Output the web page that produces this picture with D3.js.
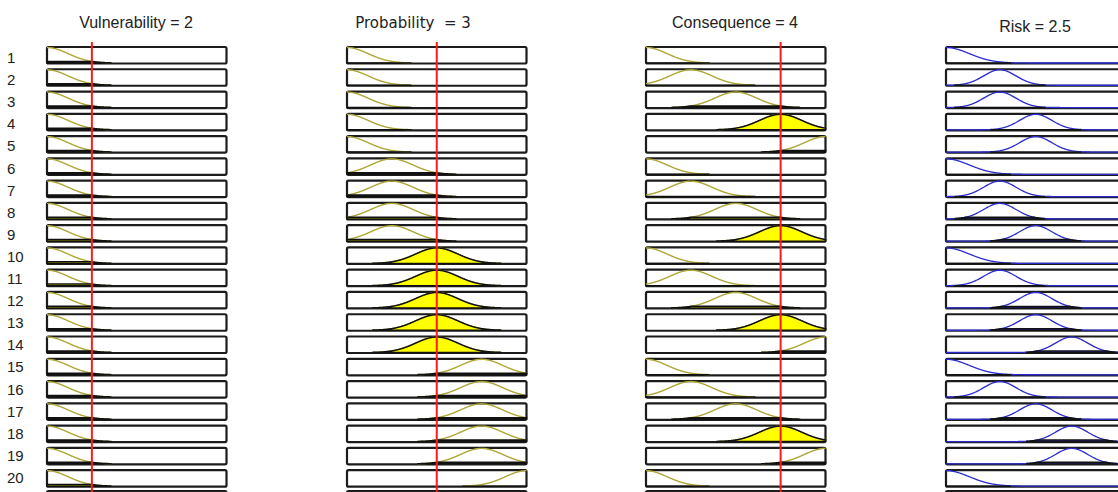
<!DOCTYPE html>
<html lang="en">
<head>
<meta charset="utf-8">
<title>Rule viewer</title>
<script src="https://d3js.org/d3.v7.min.js"></script>
<style>
  body { margin: 0; background: #fff; }
  text { font-family: "Liberation Sans", Arial, sans-serif; fill: #222; }
</style>
</head>
<body>
<script>
var w = 1118, h = 492;

// rule numbers
var ruleLabels = ["1","2","3","4","5","6","7","8","9","10","11","12","13","14","15","16","17","18","19","20"];

// inputs: 5 gaussian MFs on [1,5]
var inputNames = ["Vulnerability", "Probability", "Consequence"];
var inputValues = [2, 3, 4];
var inputRange = [1, 5];
var inputMfCenters = [1, 2, 3, 4, 5];
var inputMfSigma = 0.47;

// MF used by each rule (index into inputMfCenters)
var vulnerabilityMf = [0,0,0,0,0,0,0,0,0,0,0,0,0,0,0,0,0,0,0,0];
var probabilityMf   = [0,0,0,0,0,1,1,1,1,2,2,2,2,2,3,3,3,3,3,4];
var consequenceMf   = [0,1,2,3,4,0,1,2,3,0,1,2,3,4,0,1,2,3,4,0];

// output
var outputName = "Risk";
var outputValue = 2.5;
var outputRange = [0, 5];
var riskMfCenters = [0, 1.5, 2.5, 3.5, 4.5];
var riskMfSigmas  = [0.65, 0.45, 0.45, 0.45, 0.45];
var riskMf = [0,1,1,2,2,0,1,1,2,0,1,2,2,3,0,1,2,3,3,0];

var svg = d3.select("body").append("svg").attr("width", w).attr("height", h);

// layout
var colX = [47, 347, 646, 946];
var boxW = 179.5;
var rowTop = 47, rowStep = 22.27, boxH = 16.5;

function gauss(x, c, s) { return Math.exp(-(x - c) * (x - c) / (2 * s * s)); }

var inputMfs = [vulnerabilityMf, probabilityMf, consequenceMf];

// row labels
svg.selectAll("text.rule").data(ruleLabels).enter().append("text")
  .attr("class", "rule")
  .attr("x", 7)
  .attr("y", function(d, i) { return 63 + i * 22.1; })
  .style("font-size", "15px")
  .text(function(d) { return d; });

// titles
var titles = [
  {t: "Vulnerability = " + inputValues[0], x: 136, y: 28, f: "Liberation Sans"},
  {t: "Probability  = " + inputValues[1], x: 413, y: 28, f: "DejaVu Sans"},
  {t: "Consequence = " + inputValues[2], x: 735, y: 28, f: "Liberation Sans"},
  {t: outputName + " = " + outputValue, x: 1035, y: 32, f: "Liberation Sans"}
];
svg.selectAll("text.title").data(titles).enter().append("text")
  .attr("class", "title")
  .attr("x", function(d) { return d.x; })
  .attr("y", function(d) { return d.y; })
  .attr("text-anchor", "middle")
  .style("font-family", function(d) { return d.f; })
  .style("font-size", function(d) { return d.f == "DejaVu Sans" ? "15px" : "16px"; })
  .style("white-space", "pre")
  .text(function(d) { return d.t; });

// firing strength of each rule (AND = min)
var firing = ruleLabels.map(function(r, i) {
  var degs = inputMfs.map(function(mf, k) {
    return gauss(inputValues[k], inputMfCenters[mf[i]], inputMfSigma);
  });
  return d3.min(degs);
});

function drawBox(g, x0, y0) {
  g.append("rect")
    .attr("x", x0).attr("y", y0)
    .attr("width", boxW).attr("height", boxH)
    .attr("rx", 1.5)
    .attr("fill", "#fff")
    .attr("stroke", "#1c1c1c")
    .attr("stroke-width", 2.2);
}

// input columns
inputNames.forEach(function(name, k) {
  var xs = d3.scaleLinear().domain(inputRange).range([colX[k], colX[k] + boxW]);
  var xPts = d3.range(0, 401).map(function(j) { return inputRange[0] + j * (inputRange[1] - inputRange[0]) / 400; });
  var g = svg.append("g");
  ruleLabels.forEach(function(r, i) {
    var y0 = rowTop + i * rowStep;
    var ys = d3.scaleLinear().domain([0, 1]).range([y0 + boxH - 0.5, y0 + 0.5]);
    drawBox(g, colX[k], y0);
    var c = inputMfCenters[inputMfs[k][i]];
    var deg = gauss(inputValues[k], c, inputMfSigma);
    var pts = xPts.filter(function(x) { return gauss(x, c, inputMfSigma) >= 0.01; });
    // MF curve
    g.append("path")
      .attr("d", d3.line().x(function(x) { return xs(x); }).y(function(x) { return ys(gauss(x, c, inputMfSigma)); })(pts))
      .attr("fill", "none").attr("stroke", "#aea636").attr("stroke-width", 1.4);
    // degree patch
    g.append("path")
      .attr("d", d3.area().x(function(x) { return xs(x); }).y0(ys(0))
        .y1(function(x) { return ys(Math.min(gauss(x, c, inputMfSigma), deg)); })(pts))
      .attr("fill", "#ffff00").attr("stroke", "#111").attr("stroke-width", 1.5);
  });
  // aggregate row peeking at the bottom
  drawBox(g, colX[k], 491);
  // input value line
  g.append("line")
    .attr("x1", xs(inputValues[k])).attr("x2", xs(inputValues[k]))
    .attr("y1", 42).attr("y2", h)
    .attr("stroke", "#ff1a1a").attr("stroke-width", 2);
});

// output column
(function() {
  var xs = d3.scaleLinear().domain(outputRange).range([colX[3], colX[3] + boxW]);
  var xPts = d3.range(0, 401).map(function(j) { return outputRange[0] + j * (outputRange[1] - outputRange[0]) / 400; });
  var g = svg.append("g");
  ruleLabels.forEach(function(r, i) {
    var y0 = rowTop + i * rowStep;
    var ys = d3.scaleLinear().domain([0, 1]).range([y0 + boxH - 0.5, y0 + 0.5]);
    drawBox(g, colX[3], y0);
    var c = riskMfCenters[riskMf[i]], s = riskMfSigmas[riskMf[i]];
    g.append("path")
      .attr("d", d3.line().x(function(x) { return xs(x); }).y(function(x) { return ys(gauss(x, c, s)); })(xPts))
      .attr("fill", "none").attr("stroke", "#2b2bd0").attr("stroke-width", 1.3);
    var pts = xPts.filter(function(x) { return gauss(x, c, s) >= 0.02; });
    g.append("path")
      .attr("d", d3.area().x(function(x) { return xs(x); }).y0(ys(0))
        .y1(function(x) { return ys(Math.min(gauss(x, c, s), firing[i])); })(pts))
      .attr("fill", "#2b2bd0").attr("stroke", "#111").attr("stroke-width", 1.4);
  });
  drawBox(g, colX[3], 491);
})();
</script>
</body>
</html>
